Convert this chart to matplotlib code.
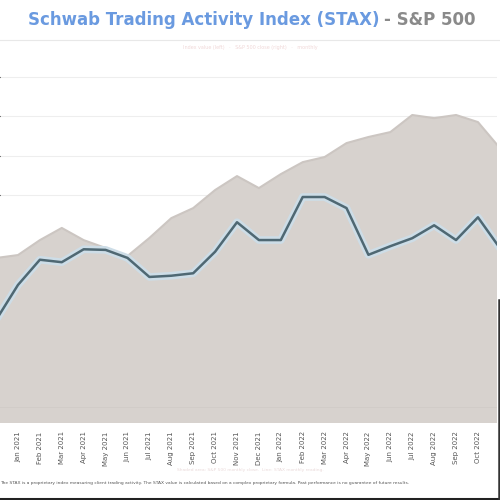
import matplotlib
matplotlib.use("Agg")
import matplotlib.pyplot as plt
from matplotlib.lines import Line2D
import matplotlib.patheffects as pe

# ---- data ----
months = ["Dec 2020", "Jan 2021", "Feb 2021", "Mar 2021", "Apr 2021", "May 2021",
          "Jun 2021", "Jul 2021", "Aug 2021", "Sep 2021", "Oct 2021", "Nov 2021",
          "Dec 2021", "Jan 2022", "Feb 2022", "Mar 2022", "Apr 2022", "May 2022",
          "Jun 2022", "Jul 2022", "Aug 2022", "Sep 2022", "Oct 2022", "Nov 2022"]
sp500 = [4079, 4094, 4170, 4232, 4170, 4130, 4089, 4181, 4282, 4333, 4425, 4496,
         4435, 4506, 4567, 4593, 4664, 4695, 4720, 4807, 4791, 4807, 4771, 4639]
stax = [4.00, 4.57, 4.98, 4.94, 5.15, 5.14, 5.01, 4.70, 4.72, 4.76, 5.11, 5.59,
        5.30, 5.30, 6.00, 6.00, 5.82, 5.06, 5.20, 5.33, 5.54, 5.30, 5.67, 5.17]
sp_ticks = [4400, 4600, 4800, 5000]

W = H = 500
fig = plt.figure(figsize=(5, 5), dpi=100)
fig.patch.set_facecolor("white")

def fy(py):
    return 1 - py / H

top_px, bot_px = 60, 423
ax = fig.add_axes([0, fy(bot_px), 497 / W, (bot_px - top_px) / H])
x = list(range(len(months)))
ax.fill_between(x, sp500, 3000, color="#d7d2ce", zorder=2, linewidth=0)
ax.plot(x, sp500, color="#ccc6c2", lw=1.5, zorder=3)
ax.set_xlim(0.18, 22.87)
ax.set_ylim(3239, 5087)
ax.set_yticks(sp_ticks)
ax.yaxis.grid(True, color="#eeeeee", lw=0.8, zorder=1)
ax.tick_params(axis="y", left=False, labelleft=False)
for s in ax.spines.values():
    s.set_visible(False)
ax.set_xticks(x[1:23])
ax.set_xticklabels(months[1:23], rotation=90, fontsize=5, color="#555555")
ax.tick_params(axis="x", length=0, pad=6)
ax.axhline(3239 + (423 - 407) * 5.089, color="#d0cbc7", lw=0.6, zorder=2.5)

ax2 = ax.twinx()
ax2.plot(x, stax, color="#4f6873", lw=1.8, zorder=5,
         path_effects=[pe.Stroke(linewidth=5.5, foreground="#cddde7"), pe.Normal()])
ax2.set_ylim(2.325, 8.228)
ax2.set_xlim(0.18, 22.87)
ax2.axis("off")

# title
renderer = fig.canvas.get_renderer()
t1 = fig.text(28 / W, fy(20), "Schwab Trading Activity Index (STAX)", fontsize=12,
              color="#6a9ae0", va="center", ha="left", fontweight="bold")
bb = t1.get_window_extent(renderer)
fig.text(bb.x1 / fig.bbox.width + 0.01, fy(20), "- S&P 500", fontsize=12,
         color="#8a8a8a", va="center", ha="left", fontweight="bold")
fig.add_artist(Line2D([0, 1], [fy(40), fy(40)], color="#e8e8e8", lw=0.8))
fig.text(0.5, fy(47), "Index value (left)   ·   S&P 500 close (right)   ·   monthly",
         fontsize=3.5, color="#f0d8d8", ha="center", va="center")

fig.text(0.5, fy(470), "Shaded area: S&P 500 monthly close.  Line: STAX monthly reading.",
         fontsize=3.2, color="#eadada", ha="center", va="center")
fig.text(0.0, fy(483), "The STAX is a proprietary index measuring client trading activity. "
         "The STAX value is calculated based on a complex proprietary formula. Past performance is no guarantee of future results.",
         fontsize=3.2, color="#555555", ha="left", va="center")

fig.add_artist(Line2D([0, 1], [fy(498.5), fy(498.5)], color="#222222", lw=2.2))
fig.add_artist(Line2D([498.5 / W, 498.5 / W], [0, fy(300)], color="#333333", lw=1.8))

fig.savefig("out.png", dpi=100, facecolor="white")
